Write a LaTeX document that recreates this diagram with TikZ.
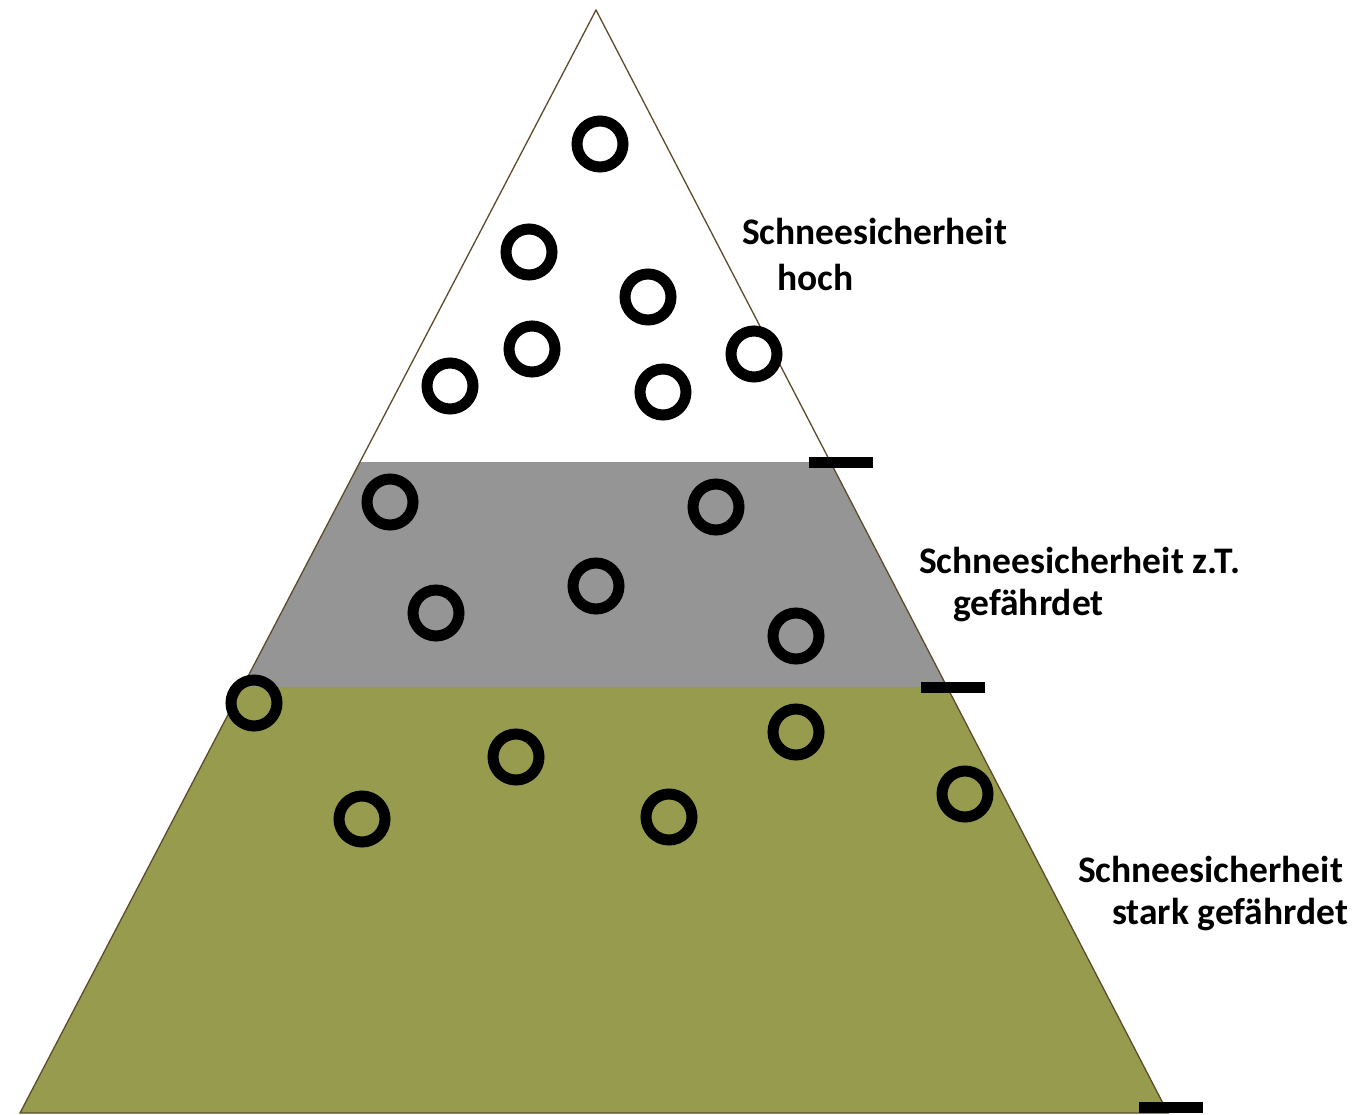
\documentclass[tikz,border=0pt]{standalone}
\usepackage{fontspec}
\setmainfont{Carlito}
\usepackage{xcolor}
\usepackage{tikz}
\definecolor{outline}{HTML}{5E4B2C}
\definecolor{midband}{HTML}{959595}
\definecolor{lowband}{HTML}{969B4E}
\definecolor{ink}{HTML}{000000}
\tikzset{
  edge/.style={draw=outline, line width=1.3pt, line join=miter},
  ring/.style={draw=ink, line width=11pt},
  limitbar/.style={fill=ink},
  lab/.style={text=ink, font=\fontsize{37.5}{44}\selectfont\bfseries, anchor=west, inner sep=0pt},
}
\begin{document}
\begin{tikzpicture}[x=1pt, y=-1pt]
  \useasboundingbox (0,0) rectangle (1360,1115);
  % bands of the pyramid
  \begin{scope}
    \clip (596,10) -- (20,1113) -- (1168,1113) -- cycle;
    \fill[white] (0,0) rectangle (1360,462);
    \fill[midband] (0,462) rectangle (1360,687);
    \fill[lowband] (0,687) rectangle (1360,1115);
  \end{scope}
  \draw[edge] (596,10) -- (20,1113) -- (1168,1113) -- cycle;
  % band limits
  \fill[limitbar] (809,457) rectangle (873,468);
  \fill[limitbar] (921,682) rectangle (985,693);
  \fill[limitbar] (1139,1102) rectangle (1203,1113);
  % ski areas
  \foreach \px/\py in {600/144, 529/252, 648/297, 532/349, 450/386, 663/392, 754/354,
                       390/502, 716/507, 596/586, 436/613, 796/636,
                       254/703, 516/757, 796/732, 362/819, 669/817, 965/794}
    \draw[ring] (\px,\py) circle[radius=23];
  % labels
  \node[lab] (hoch1) at (742,231) {Schneesicherheit};
  \node[lab] (hoch2) at (777,277) {hoch};
  \node[lab] (teil1) at (919,560) {Schneesicherheit z.T.};
  \node[lab] (teil2) at (953,606) {gefährdet};
  \node[lab] (stark1) at (1078,869) {Schneesicherheit};
  \node[lab] (stark2) at (1112,915) {stark gefährdet};
\end{tikzpicture}
\end{document}
